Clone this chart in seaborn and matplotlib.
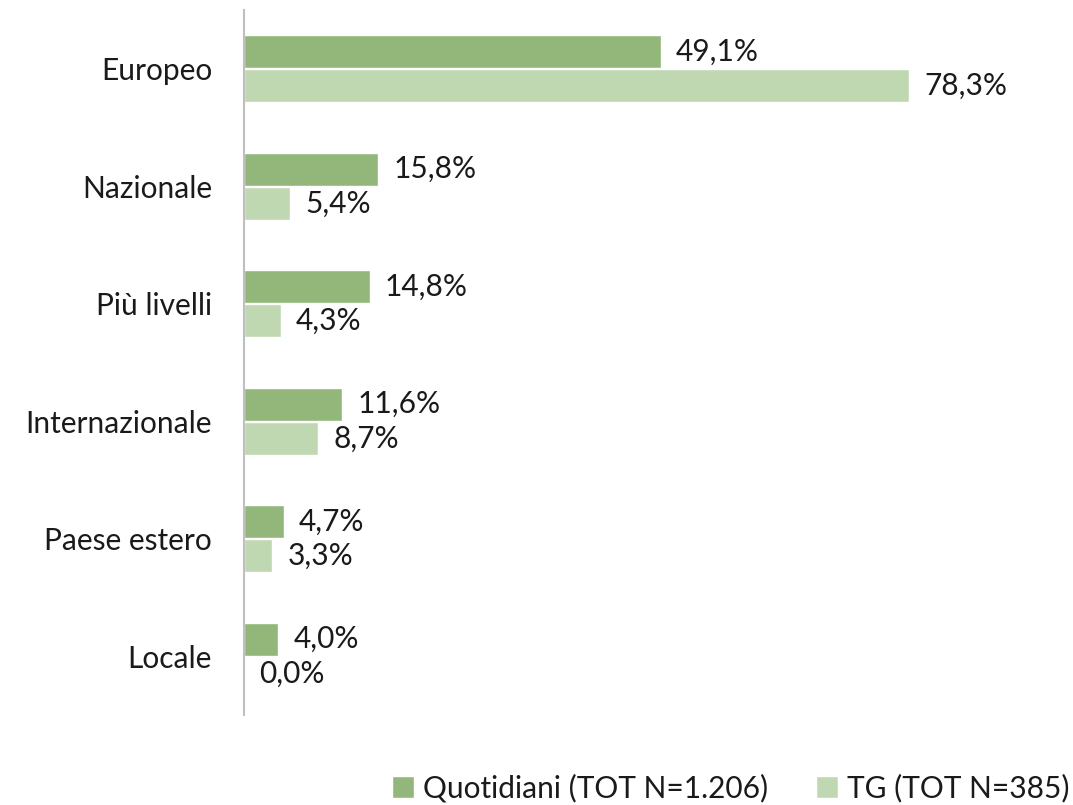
import matplotlib
matplotlib.use("Agg")
import matplotlib.pyplot as plt
import seaborn as sns
import pandas as pd

# Data
categories = ["Europeo", "Nazionale", "Più livelli", "Internazionale", "Paese estero", "Locale"]
quotidiani = [49.1, 15.8, 14.8, 11.6, 4.7, 4.0]
tg = [78.3, 5.4, 4.3, 8.7, 3.3, 0.0]
series_names = ["Quotidiani (TOT N=1.206)", "TG (TOT N=385)"]
colors = ["#93B77A", "#C0D8B2"]

df = pd.DataFrame({
    "categoria": categories * 2,
    "valore": quotidiani + tg,
    "serie": [series_names[0]] * len(categories) + [series_names[1]] * len(categories),
})

sns.set_style("white")
plt.rcParams["font.family"] = ["Lato", "DejaVu Sans"]
FS = 21.5

fig = plt.figure(figsize=(10.73, 8.05), dpi=100)
ax = fig.add_axes([244 / 1073, 90 / 805, 764 / 1073, 705 / 805])

sns.barplot(data=df, y="categoria", x="valore", hue="serie", order=categories,
            hue_order=series_names, palette=colors, orient="h",
            width=0.58, gap=0.03, saturation=1, ax=ax, legend=True)

for container in ax.containers:
    vals = container.datavalues
    ax.bar_label(container, labels=[f"{v:.1f}%".replace(".", ",") for v in vals],
                 padding=11, fontsize=FS, color="#1a1a1a")

ax.set_xlim(0, 90)
ax.set_ylim(5.5, -0.5)
ax.set_xlabel("")
ax.set_ylabel("")
ax.xaxis.set_visible(False)
ax.tick_params(axis="y", length=0, pad=23, labelsize=FS, labelcolor="#1a1a1a")
for s in ["top", "right", "bottom"]:
    ax.spines[s].set_visible(False)
ax.spines["left"].set_color("#BFBFBF")
ax.spines["left"].set_linewidth(1.5)

handles, labels = ax.get_legend_handles_labels()
ax.get_legend().remove()
fig.legend(handles, labels, loc="lower right", bbox_to_anchor=(1.022, -0.03), ncol=2,
           frameon=False, fontsize=FS, handlelength=0.75, handleheight=0.75,
           handletextpad=0.3, columnspacing=1.6, labelcolor="#1a1a1a")

fig.savefig("out.png", dpi=100)
